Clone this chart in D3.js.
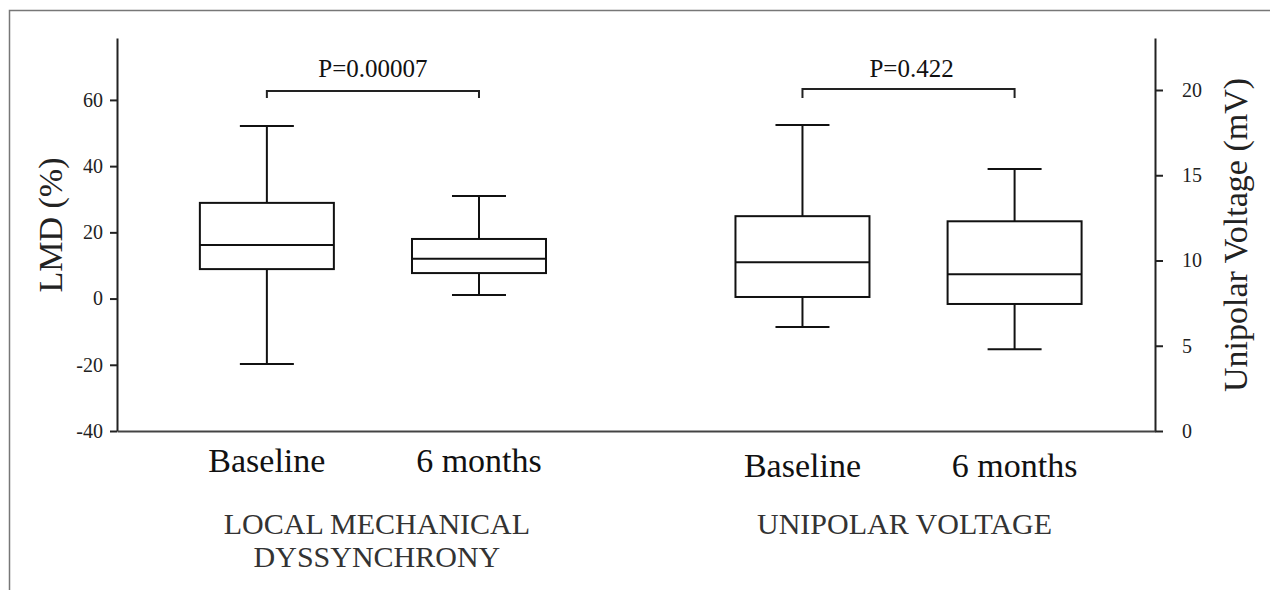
<!DOCTYPE html>
<html>
<head>
<meta charset="utf-8">
<script src="https://cdn.jsdelivr.net/npm/d3@7"></script>
<style>
  html, body { margin: 0; padding: 0; background: white; }
  svg text { font-family: "Liberation Serif", "DejaVu Serif", serif !important; }
</style>
</head>
<body>
<div id="chart"></div>
<script>
// ---- data
const groups = ["LMD", "UV"];
const groupLabels = [["LOCAL MECHANICAL", "DYSSYNCHRONY"], ["UNIPOLAR VOLTAGE"]];
const categories = ["Baseline", "6 months"];

// box stats: [min, q1, median, q3, max]
const lmdBoxes = [
  [-19.8, 8.9, 16.2, 28.9, 52.1],
  [1.1, 7.7, 12.0, 18.0, 31.0],
];
const voltageBoxes = [
  [6.1, 7.86, 9.9, 12.6, 17.95],
  [4.8, 7.45, 9.2, 12.3, 15.37],
];
const pValues = ["P=0.00007", "P=0.422"];

const lmdTicks = [-40, -20, 0, 20, 40, 60];
const voltageTicks = [0, 5, 10, 15, 20];

// ---- layout
const WIDTH = 1270;
const HEIGHT = 590;
const AXIS = { LEFT: 117, RIGHT: 1155, TOP: 38, BOTTOM: 431 };
const BOX_W = 134;
const CAP_W = 54;
const SERIF = "'Liberation Serif', 'Times New Roman', serif";

const svg = d3
  .select("#chart")
  .append("svg")
  .attr("width", WIDTH)
  .attr("height", HEIGHT)
  .style("background", "white")
  .style("font-family", SERIF);

// outer frame (only top and left edges are visible)
svg
  .append("path")
  .attr("d", `M9.5,${HEIGHT}V10.5H${WIDTH}`)
  .attr("fill", "none")
  .attr("stroke", "#777")
  .attr("stroke-width", 1.5);

const xGroup = d3
  .scaleBand()
  .domain(groups)
  .range([AXIS.LEFT, AXIS.RIGHT])
  .paddingInner(0.2)
  .paddingOuter(0.069)
  .align(0.564);

const xCat = d3
  .scalePoint()
  .domain(categories)
  .range([0, xGroup.bandwidth()])
  .padding(0.51);

const yLeft = d3
  .scaleLinear()
  .domain([-40, 78.7])
  .range([AXIS.BOTTOM, AXIS.TOP]);

const yRight = d3
  .scaleLinear()
  .domain([0, 23.05])
  .range([AXIS.BOTTOM, AXIS.TOP]);

const xPos = (g, c) => xGroup(g) + xCat(c);
// plain hyphen for negatives, like the original
const fmt = (v) => String(v);

// ---- axes
const leftAxis = svg
  .append("g")
  .attr("transform", `translate(${AXIS.LEFT},0)`)
  .call(
    d3.axisLeft(yLeft).tickValues(lmdTicks).tickFormat(fmt)
      .tickSize(7).tickSizeOuter(0).tickPadding(7)
  );

const rightAxis = svg
  .append("g")
  .attr("transform", `translate(${AXIS.RIGHT},0)`)
  .call(
    d3.axisRight(yRight).tickValues(voltageTicks).tickFormat(fmt)
      .tickSize(8).tickSizeOuter(0).tickPadding(19)
  );

const bottomAxis = svg
  .append("g")
  .attr("transform", `translate(0,${AXIS.BOTTOM})`)
  .call(d3.axisBottom(xGroup).tickSize(0).tickSizeOuter(0).tickFormat(""));

[leftAxis, rightAxis, bottomAxis].forEach((ax) => {
  ax.attr("font-family", null);
  ax.select(".domain").attr("stroke", "#222").attr("stroke-width", 2);
  ax.selectAll(".tick line").attr("stroke", "#222").attr("stroke-width", 2);
  ax.selectAll(".tick text")
    .style("font-family", SERIF)
    .attr("font-size", 20)
    .attr("fill", "#222");
});
bottomAxis.select(".domain").attr("stroke", "#444");

// axis titles
svg
  .append("text")
  .attr("transform", `translate(62,225) rotate(-90)`)
  .attr("text-anchor", "middle")
  .attr("font-size", 34)
  .attr("fill", "#222")
  .text("LMD (%)");

svg
  .append("text")
  .attr("transform", `translate(1247,235) rotate(-90)`)
  .attr("text-anchor", "middle")
  .attr("font-size", 34)
  .attr("fill", "#222")
  .text("Unipolar Voltage (mV)");

// ---- boxes
const boxData = [];
lmdBoxes.forEach((s, i) => boxData.push({ g: groups[0], c: categories[i], s: s, y: yLeft }));
voltageBoxes.forEach((s, i) => boxData.push({ g: groups[1], c: categories[i], s: s, y: yRight }));

const boxes = svg
  .selectAll(".box")
  .data(boxData)
  .enter()
  .append("g")
  .attr("class", "box")
  .attr("transform", (d) => `translate(${xPos(d.g, d.c)},0)`)
  .attr("stroke", "#111")
  .attr("stroke-width", 2);

// whisker stems
boxes
  .append("line")
  .attr("x1", 0)
  .attr("x2", 0)
  .attr("y1", (d) => d.y(d.s[0]))
  .attr("y2", (d) => d.y(d.s[4]));

// caps
[0, 4].forEach((k) => {
  boxes
    .append("line")
    .attr("x1", -CAP_W / 2)
    .attr("x2", CAP_W / 2)
    .attr("y1", (d) => d.y(d.s[k]))
    .attr("y2", (d) => d.y(d.s[k]));
});

boxes
  .append("rect")
  .attr("x", -BOX_W / 2)
  .attr("width", BOX_W)
  .attr("y", (d) => d.y(d.s[3]))
  .attr("height", (d) => d.y(d.s[1]) - d.y(d.s[3]))
  .attr("fill", "white");

// median
boxes
  .append("line")
  .attr("x1", -BOX_W / 2)
  .attr("x2", BOX_W / 2)
  .attr("y1", (d) => d.y(d.s[2]))
  .attr("y2", (d) => d.y(d.s[2]));

// ---- significance brackets
const bracketY = [91, 89];
groups.forEach((g, i) => {
  const x1 = xPos(g, categories[0]);
  const x2 = xPos(g, categories[1]);
  svg
    .append("path")
    .attr("d", `M${x1},98V${bracketY[i]}H${x2}V98`)
    .attr("fill", "none")
    .attr("stroke", "#222")
    .attr("stroke-width", 2);
  svg
    .append("text")
    .attr("x", (x1 + x2) / 2 + i * 3)
    .attr("y", 77)
    .attr("text-anchor", "middle")
    .attr("font-size", 25)
    .attr("fill", "#111")
    .text(pValues[i]);
});

// ---- category and group labels
const catBaseline = [472, 477];
groups.forEach((g, i) => {
  categories.forEach((c) => {
    svg
      .append("text")
      .attr("x", xPos(g, c))
      .attr("y", catBaseline[i])
      .attr("text-anchor", "middle")
      .attr("font-size", 34)
      .attr("fill", "#111")
      .text(c);
  });

  const lbl = svg
    .append("text")
    .attr("x", xGroup(g) + xGroup.bandwidth() / 2 + (i === 0 ? 4 : -4))
    .attr("y", 534)
    .attr("text-anchor", "middle")
    .attr("font-size", 30)
    .attr("fill", "#333");
  lbl
    .selectAll("tspan")
    .data(groupLabels[i])
    .enter()
    .append("tspan")
    .attr("x", lbl.attr("x"))
    .attr("dy", (d, j) => (j === 0 ? 0 : 33))
    .text((d) => d);
});
</script>
</body>
</html>
